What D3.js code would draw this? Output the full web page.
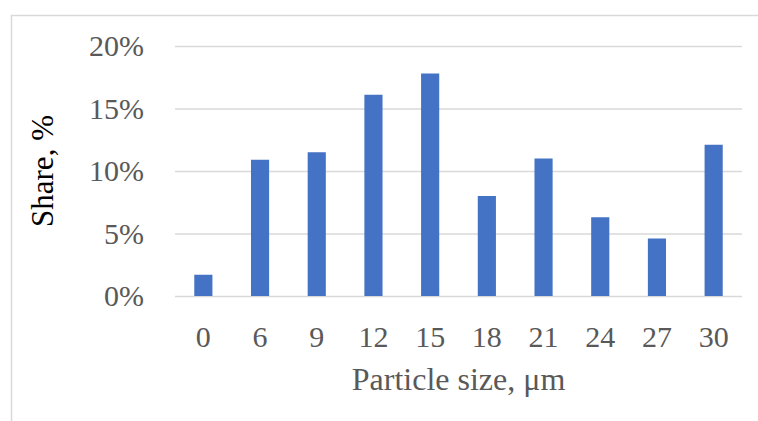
<!DOCTYPE html>
<html>
<head>
<meta charset="utf-8">
<script src="https://cdn.jsdelivr.net/npm/d3@7"></script>
<style>
  body { margin: 0; background: #fff; }
  text { font-family: "Liberation Serif", "Times New Roman", serif; }
</style>
</head>
<body>
<svg id="chart" width="758" height="421"></svg>
<script>
const sizes = ["0", "6", "9", "12", "15", "18", "21", "24", "27", "30"];
const shares = [1.7, 10.9, 11.5, 16.1, 17.8, 8.0, 11.0, 6.3, 4.6, 12.1];
const yTicks = [0, 5, 10, 15, 20];

const svg = d3.select('#chart');
const GRID = "#d9d9d9", BAR = "#4472c4", TEXT = "#595959";

// chart area border (cut off at right and bottom)
svg.append('rect')
  .attr('x', 11.5).attr('y', 15.5)
  .attr('width', 800).attr('height', 500)
  .attr('fill', 'none')
  .attr('stroke', GRID)
  .attr('stroke-width', 1.5);

const xScale = d3.scaleBand().domain(sizes).range([175, 742]).paddingInner(0.68).paddingOuter(0.34);
const yScale = d3.scaleLinear().domain([0, 20]).range([296, 46]);

const yAxis = d3.axisLeft(yScale).tickValues(yTicks).tickSize(-(742 - 175)).tickPadding(31)
  .tickFormat(d => d + "%");
const xAxis = d3.axisBottom(xScale).tickSize(0).tickPadding(30);

const yG = svg.append('g').attr('transform', 'translate(175,0)').call(yAxis);
yG.select('.domain').remove();
yG.selectAll('.tick line').attr('stroke', GRID).attr('stroke-width', 1.5);
yG.selectAll('.tick text').attr('fill', TEXT).style('font-size', '30px').attr('dy', '0.33em');

svg.selectAll('rect.bar').data(shares)
  .enter().append('rect')
  .attr('class', 'bar')
  .attr('x', (d, i) => xScale(sizes[i]))
  .attr('width', xScale.bandwidth())
  .attr('y', d => yScale(d))
  .attr('height', d => yScale(0) - yScale(d))
  .style('fill', BAR);

const xG = svg.append('g').attr('transform', 'translate(0,296)').call(xAxis);
xG.select('.domain').remove();
xG.selectAll('.tick text').attr('fill', TEXT).style('font-size', '30px').attr('dy', '0.71em');

svg.append('text')
  .attr('x', 458.5).attr('y', 390)
  .attr('text-anchor', 'middle')
  .attr('fill', TEXT)
  .style('font-size', '32px')
  .text('Particle size, μm');

svg.append('text')
  .attr('transform', 'translate(53,171) rotate(-90)')
  .attr('text-anchor', 'middle')
  .attr('fill', '#000')
  .style('font-size', '31px')
  .text('Share, %');
</script>
</body>
</html>
